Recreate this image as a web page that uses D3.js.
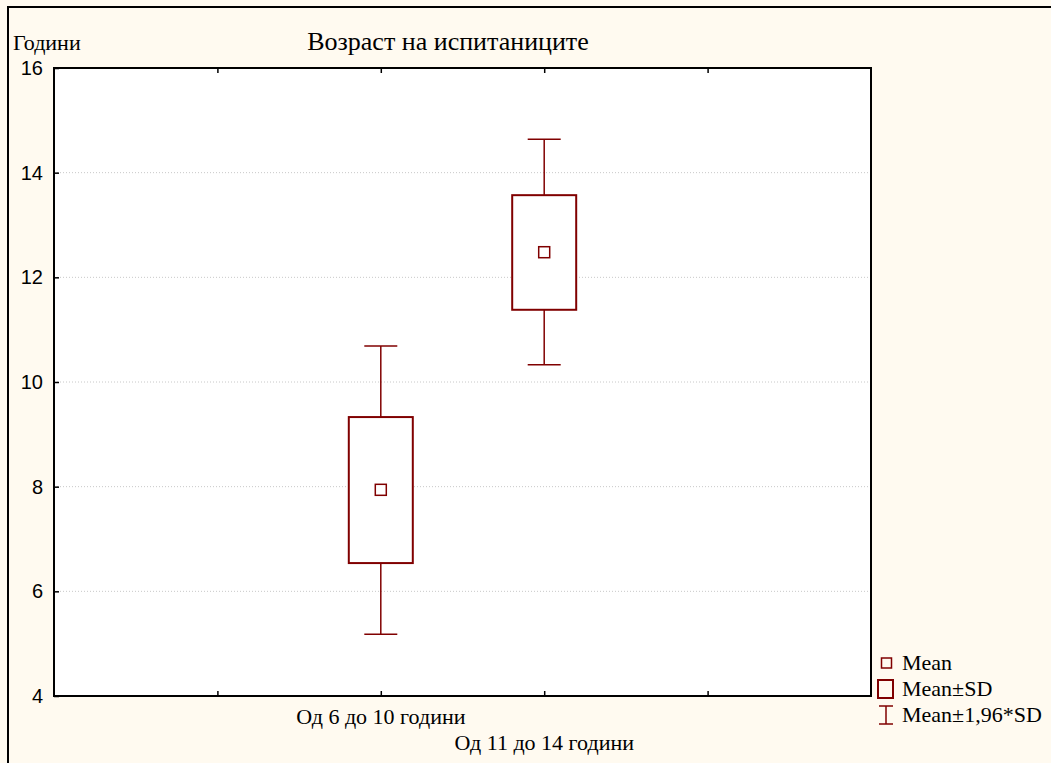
<!DOCTYPE html>
<html>
<head>
<meta charset="utf-8">
<script src="https://cdn.jsdelivr.net/npm/d3@7"></script>
<style>
  html, body { margin: 0; padding: 0; background: #fffaf0; }
  svg { display: block; }
</style>
</head>
<body>
<svg id="chart" width="1051" height="763"></svg>
<script>
// Age groups and their summary statistics (years)
const groups   = ["Од 6 до 10 години", "Од 11 до 14 години"];
const means    = [7.94, 12.48];
const sdLow    = [6.54, 11.38];
const sdHigh   = [9.33, 13.57];
const ciLow    = [5.18, 10.33];
const ciHigh   = [10.69, 14.64];
const yTicks   = [4, 6, 8, 10, 12, 14, 16];
const legendLabels = ["Mean", "Mean±SD", "Mean±1,96*SD"];

const RED = "#800000";
const svg = d3.select("#chart");

// outer frame (only left/top edge visible inside the window)
svg.append("rect")
  .attr("x", 8).attr("y", 7).attr("width", 1100).attr("height", 800)
  .attr("fill", "#fffaf0").attr("stroke", "#000").attr("stroke-width", 2);

const plot = { left: 54, top: 68, right: 871, bottom: 696 };

const y = d3.scaleLinear().domain([4, 16]).range([plot.bottom, plot.top]);
// five equal slots across the plot; the groups sit on slots 2 and 3
const x = d3.scaleLinear().domain([0, 5]).range([plot.left, plot.right]);
const groupPos = i => x(i + 2);

svg.append("rect")
  .attr("x", plot.left).attr("y", plot.top)
  .attr("width", plot.right - plot.left).attr("height", plot.bottom - plot.top)
  .attr("fill", "#fff");

// dotted horizontal grid
svg.append("g").selectAll("line")
  .data(yTicks.filter(t => t > 4 && t < 16))
  .join("line")
  .attr("x1", plot.left).attr("x2", plot.right)
  .attr("y1", d => y(d)).attr("y2", d => y(d))
  .attr("stroke", "#c8c8c8").attr("stroke-width", 1)
  .attr("stroke-dasharray", "1,2");

// axes with inward ticks
const yAxis = d3.axisLeft(y).tickValues(yTicks).tickSize(-5).tickPadding(11).tickFormat(d3.format("d"));
const gy = svg.append("g").attr("transform", `translate(${plot.left},0)`).call(yAxis);
gy.select(".domain").remove();
gy.selectAll("text").attr("font-family", "Liberation Sans, Arial, sans-serif").attr("font-size", 20).attr("fill", "#000");
gy.selectAll(".tick line").attr("stroke", "#000").attr("stroke-width", 1.5);

const xTickVals = [1, 2, 3, 4];
const gxb = svg.append("g").attr("transform", `translate(0,${plot.bottom})`)
  .call(d3.axisBottom(x).tickValues(xTickVals).tickSize(-5).tickFormat(""));
gxb.select(".domain").remove();
gxb.selectAll(".tick line").attr("stroke", "#000").attr("stroke-width", 1.5);
const gxt = svg.append("g").attr("transform", `translate(0,${plot.top})`)
  .call(d3.axisTop(x).tickValues(xTickVals).tickSize(-5).tickFormat(""));
gxt.select(".domain").remove();
gxt.selectAll(".tick line").attr("stroke", "#000").attr("stroke-width", 1.5);

// plot frame
svg.append("rect")
  .attr("x", plot.left).attr("y", plot.top)
  .attr("width", plot.right - plot.left).attr("height", plot.bottom - plot.top)
  .attr("fill", "none").attr("stroke", "#000").attr("stroke-width", 2);

// whiskers (mean ± 1.96·SD), SD boxes and mean markers
const capW = 33, boxW = 64, meanSz = 11;
const marks = svg.append("g");
groups.forEach((g, i) => {
  const cx = groupPos(i);
  marks.append("line").attr("x1", cx).attr("x2", cx).attr("y1", y(ciHigh[i])).attr("y2", y(sdHigh[i]))
    .attr("stroke", RED).attr("stroke-width", 1.5);
  marks.append("line").attr("x1", cx).attr("x2", cx).attr("y1", y(sdLow[i])).attr("y2", y(ciLow[i]))
    .attr("stroke", RED).attr("stroke-width", 1.5);
  [ciHigh[i], ciLow[i]].forEach(v => {
    marks.append("line").attr("x1", cx - capW / 2).attr("x2", cx + capW / 2)
      .attr("y1", y(v)).attr("y2", y(v)).attr("stroke", RED).attr("stroke-width", 1.5);
  });
  marks.append("rect")
    .attr("x", cx - boxW / 2).attr("y", y(sdHigh[i]))
    .attr("width", boxW).attr("height", y(sdLow[i]) - y(sdHigh[i]))
    .attr("fill", "#fff").attr("stroke", RED).attr("stroke-width", 2);
  marks.append("rect")
    .attr("x", cx - meanSz / 2).attr("y", y(means[i]) - meanSz / 2)
    .attr("width", meanSz).attr("height", meanSz)
    .attr("fill", "#fff").attr("stroke", RED).attr("stroke-width", 1.5);
});

const serif = "Liberation Serif, Times New Roman, serif";

// title and axis label
svg.append("text").attr("x", 448).attr("y", 50).attr("text-anchor", "middle")
  .attr("font-family", serif).attr("font-size", 26).text("Возраст на испитаниците");
svg.append("text").attr("x", 13).attr("y", 50)
  .attr("font-family", serif).attr("font-size", 22).text("Години");

// staggered category labels
svg.append("g").selectAll("text").data(groups).join("text")
  .attr("x", (d, i) => groupPos(i))
  .attr("y", (d, i) => i === 0 ? 724 : 750)
  .attr("text-anchor", "middle")
  .attr("font-family", serif).attr("font-size", 22)
  .text(d => d);

// legend
const lg = svg.append("g");
const legY = [663, 689, 715];
lg.append("rect").attr("x", 881.5).attr("y", legY[0] - 5).attr("width", 10).attr("height", 10)
  .attr("fill", "none").attr("stroke", RED).attr("stroke-width", 1.5);
lg.append("rect").attr("x", 878).attr("y", legY[1] - 9).attr("width", 15).attr("height", 18)
  .attr("fill", "none").attr("stroke", RED).attr("stroke-width", 2);
lg.append("line").attr("x1", 886).attr("x2", 886).attr("y1", legY[2] - 9).attr("y2", legY[2] + 9)
  .attr("stroke", RED).attr("stroke-width", 1.5);
lg.append("line").attr("x1", 879).attr("x2", 893).attr("y1", legY[2] - 9).attr("y2", legY[2] - 9)
  .attr("stroke", RED).attr("stroke-width", 1.5);
lg.append("line").attr("x1", 879).attr("x2", 893).attr("y1", legY[2] + 9).attr("y2", legY[2] + 9)
  .attr("stroke", RED).attr("stroke-width", 1.5);
lg.selectAll("text").data(legendLabels).join("text")
  .attr("x", 902).attr("y", (d, i) => legY[i] + 7)
  .attr("font-family", serif).attr("font-size", 22)
  .text(d => d);
</script>
</body>
</html>
